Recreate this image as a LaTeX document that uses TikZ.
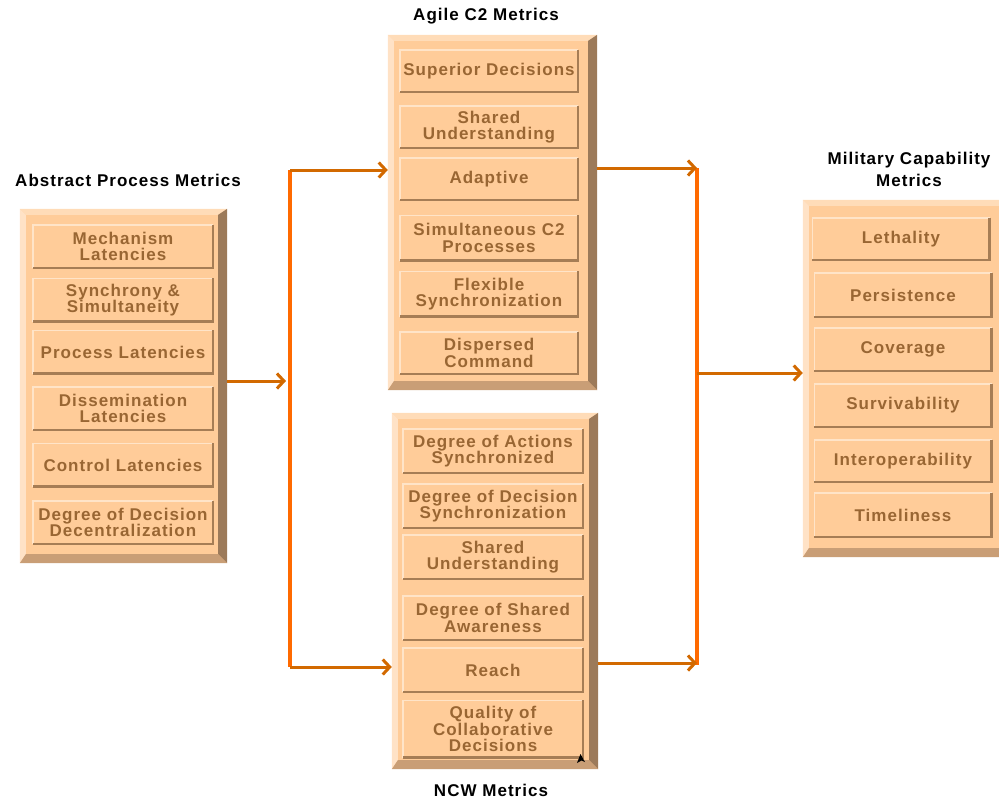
\documentclass[tikz,border=0pt]{standalone}
\usepackage{fontspec}
\setmainfont{Liberation Sans}
\newfontfamily\metricfont{Liberation Sans}[LetterSpace=6]
\usetikzlibrary{calc,arrows.meta}

\definecolor{face}{HTML}{FFCC99}
\definecolor{bevTop}{HTML}{FFDCB8}
\definecolor{bevLeft}{HTML}{FFE2C6}
\definecolor{bevRight}{HTML}{9C7A5A}
\definecolor{bevBottom}{HTML}{C99E76}
\definecolor{btnLight}{HTML}{FFE4C8}
\definecolor{btnDark}{HTML}{A67D55}
\definecolor{labelBrown}{HTML}{996633}
\definecolor{flowOrange}{HTML}{D26900}
\definecolor{busOrange}{HTML}{FF6A00}

% raised frame around a panel node
\newcommand\panelbevel[1]{%
  \fill[bevTop] (#1.north west) -- (#1.north east) -- ($(#1.north east)+(-9,6)$) -- ($(#1.north west)+(6,6)$) -- cycle;
  \fill[bevLeft] (#1.north west) -- ($(#1.north west)+(6,6)$) -- ($(#1.south west)+(6,-9)$) -- (#1.south west) -- cycle;
  \fill[bevRight] (#1.north east) -- (#1.south east) -- ($(#1.south east)+(-9,-9)$) -- ($(#1.north east)+(-9,6)$) -- cycle;
  \fill[bevBottom] (#1.south west) -- (#1.south east) -- ($(#1.south east)+(-9,-9)$) -- ($(#1.south west)+(6,-9)$) -- cycle;
}
% light and dark edges of a button
\newcommand\btnedges[1]{%
  \draw[btnLight, line width=1.5pt] (#1.south west) -- (#1.north west) -- (#1.north east);
  \draw[btnDark, line width=2.5pt] (#1.north east) -- (#1.south east) -- (#1.south west);
}

\tikzset{
  panel/.style={rectangle, fill=face, inner sep=0pt},
  metricbtn/.style={rectangle, fill=face, inner sep=0pt, minimum width=179pt, minimum height=43pt,
    text=labelBrown, align=center, font=\metricfont\bfseries\fontsize{17}{16.5}\selectfont},
  titletext/.style={text=black, align=center, inner sep=0pt,
    font=\metricfont\bfseries\fontsize{17}{22}\selectfont},
  flow/.style={draw=flowOrange, line width=3pt, -{Straight Barb[length=7pt,width=15pt]}},
  bus/.style={draw=busOrange, line width=3.5pt},
}

\begin{document}
\begin{tikzpicture}[x=1pt,y=-1pt]
\useasboundingbox (0,0) rectangle (999,801);
\clip (0,0) rectangle (999,801);

% ---------- panels ----------
\node[panel, minimum width=207pt, minimum height=354pt] (pA) at (123.5,386) {};
\panelbevel{pA}
\node[panel, minimum width=209pt, minimum height=355pt] (pB) at (492.5,212.5) {};
\panelbevel{pB}
\node[panel, minimum width=206pt, minimum height=356pt] (pC) at (495,591) {};
\panelbevel{pC}
\node[panel, minimum width=209pt, minimum height=357pt] (pD) at (907.5,378.5) {};
\panelbevel{pD}

% ---------- titles ----------
\node[titletext] (tA) at (128,180) {Abstract Process Metrics};
\node[titletext] (tB) at (486,16) {Agile C2 Metrics};
\node[titletext] (tC) at (491,790) {NCW Metrics};
\node[titletext] (tD) at (909,169) {Military Capability\\Metrics};

% ---------- abstract process metrics ----------
\node[metricbtn, minimum width=180pt] (a1) at (123,246.5) {Mechanism\\Latencies}; \btnedges{a1}
\node[metricbtn, minimum width=180pt] (a2) at (123,300) {Synchrony \&\\Simultaneity}; \btnedges{a2}
\node[metricbtn, minimum width=180pt] (a3) at (123,352) {Process Latencies}; \btnedges{a3}
\node[metricbtn, minimum width=180pt] (a4) at (123,408.5) {Dissemination\\Latencies}; \btnedges{a4}
\node[metricbtn, minimum width=180pt] (a5) at (123,465) {Control Latencies}; \btnedges{a5}
\node[metricbtn, minimum width=180pt] (a6) at (123,522.5) {Degree of Decision\\Decentralization}; \btnedges{a6}

% ---------- agile C2 metrics ----------
\node[metricbtn, minimum width=178pt, minimum height=42pt] (b1) at (489,71) {Superior Decisions}; \btnedges{b1}
\node[metricbtn, minimum width=178pt, minimum height=42pt] (b2) at (489,127) {Shared\\Understanding}; \btnedges{b2}
\node[metricbtn, minimum width=178pt, minimum height=42pt] (b3) at (489,179) {Adaptive}; \btnedges{b3}
\node[metricbtn, minimum width=178pt, minimum height=45pt] (b4) at (489,238) {Simultaneous C2\\Processes}; \btnedges{b4}
\node[metricbtn, minimum width=178pt, minimum height=45pt] (b5) at (489,294) {Flexible\\Synchronization}; \btnedges{b5}
\node[metricbtn, minimum width=178pt, minimum height=42pt] (b6) at (489,353) {Dispersed\\Command}; \btnedges{b6}

% ---------- NCW metrics ----------
\node[metricbtn, minimum width=180pt, minimum height=44pt] (c1) at (493,451) {Degree of Actions\\Synchronized}; \btnedges{c1}
\node[metricbtn, minimum width=180pt, minimum height=44pt] (c2) at (493,506) {Degree of Decision\\Synchronization}; \btnedges{c2}
\node[metricbtn, minimum width=180pt, minimum height=44pt] (c3) at (493,557) {Shared\\Understanding}; \btnedges{c3}
\node[metricbtn, minimum width=180pt, minimum height=44pt] (c4) at (493,618) {Degree of Shared\\Awareness}; \btnedges{c4}
\node[metricbtn, minimum width=180pt, minimum height=44pt] (c5) at (493,670) {Reach}; \btnedges{c5}
\node[metricbtn, minimum width=180pt, minimum height=57pt] (c6) at (493,729) {Quality of\\Collaborative\\Decisions}; \btnedges{c6}

% ---------- military capability metrics ----------
\node[metricbtn, minimum width=177pt, minimum height=42pt] (d1) at (901,239) {Lethality}; \btnedges{d1}
\node[metricbtn, minimum width=177pt, minimum height=44pt] (d2) at (903,295) {Persistence}; \btnedges{d2}
\node[metricbtn, minimum width=177pt, minimum height=43pt] (d3) at (903,349.5) {Coverage}; \btnedges{d3}
\node[metricbtn, minimum width=177pt, minimum height=43pt] (d4) at (903,405.5) {Survivability}; \btnedges{d4}
\node[metricbtn, minimum width=177pt, minimum height=42pt] (d5) at (903,461) {Interoperability}; \btnedges{d5}
\node[metricbtn, minimum width=177pt, minimum height=44pt] (d6) at (903,515) {Timeliness}; \btnedges{d6}

% pointer mark in the corner of the last button
\fill[black] (577,763) -- (580.5,754) -- (585,762) -- (581.5,760.5) -- cycle;

% ---------- connectors ----------
\coordinate (busL) at (290,381);
\coordinate (busLtop) at (290,170);
\coordinate (busLbot) at (290,667);
\coordinate (busR) at (697,373);
\coordinate (busRtop) at (697,168);
\coordinate (busRbot) at (697,665);
\coordinate (busRin) at (697,663);

\draw[bus] (busLtop) -- (busLbot);
\draw[bus] (busRtop) -- (busRbot);

\draw[flow] (pA.east |- busL) -- ([xshift=-4pt]busL);
\draw[flow] (busLtop) -- (busLtop -| pB.west);
\draw[flow] (busLbot) -- (busLbot -| pC.west);
\draw[flow] (pB.east |- busRtop) -- (busRtop);
\draw[flow] (pC.east |- busRin) -- (busRin);
\draw[flow] (busR) -- (busR -| pD.west);
\end{tikzpicture}
\end{document}
